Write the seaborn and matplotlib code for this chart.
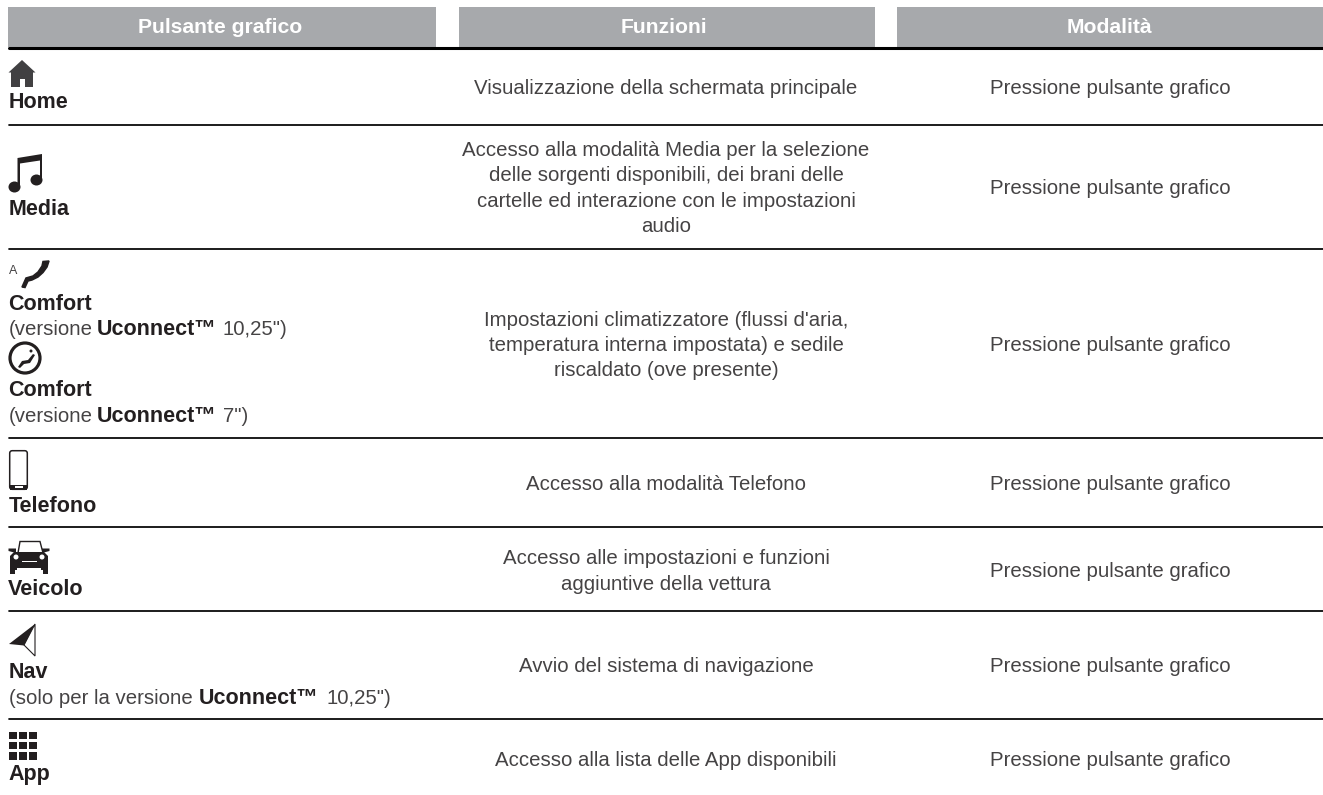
import matplotlib
matplotlib.use('Agg')
import matplotlib.pyplot as plt
from matplotlib.patches import Circle, Polygon, Rectangle, FancyBboxPatch, Ellipse
import numpy as np
import pandas as pd
import seaborn as sns

# table content
headers = ['Pulsante grafico', 'Funzioni', 'Modalità']
buttons = ['Home', 'Media', 'Comfort', 'Comfort', 'Telefono', 'Veicolo', 'Nav', 'App']
functions = [
    ['Visualizzazione della schermata principale'],
    ['Accesso alla modalità Media per la selezione',
     'delle sorgenti disponibili, dei brani delle',
     'cartelle ed interazione con le impostazioni',
     'audio'],
    ["Impostazioni climatizzatore (flussi d'aria,",
     'temperatura interna impostata) e sedile',
     'riscaldato (ove presente)'],
    ['Accesso alla modalità Telefono'],
    ['Accesso alle impostazioni e funzioni',
     'aggiuntive della vettura'],
    ['Avvio del sistema di navigazione'],
    ['Accesso alla lista delle App disponibili'],
]
mode = 'Pressione pulsante grafico'

# layout in image pixels
W, H = 1323, 795
head_left = [8, 459, 897]
head_right = [436, 875, 1323]
head_mid = [220, 664, 1109]
rule_y = [125, 249, 438, 527, 611, 719.3]
row_base = [93.5, 194, 351, 490, 577, 672.5, 766]
label_base = [108, 215, 310, 396, 512, 595, 678, 780]

sns.set_theme(style='white')
plt.rcParams['font.family'] = ['Liberation Sans', 'DejaVu Sans']
BODY = 14.7
LABEL = 15.5
DARK = '#231f20'
GREY = '#454344'

fig, ax = plt.subplots(figsize=(W / 100, H / 100), dpi=100)
fig.subplots_adjust(0, 0, 1, 1)

# header bands
bands = pd.DataFrame({'name': headers,
                      'width': np.array(head_right) - np.array(head_left),
                      'left': head_left})
for _, b in bands.iterrows():
    sns.barplot(x=[b['width']], y=[27], left=b['left'], orient='h', color='#a7a9ac',
                width=40, native_scale=True, saturation=1, ax=ax, linewidth=0)

# rules
rules = pd.DataFrame({'x': [9, W] * len(rule_y),
                      'y': np.repeat(rule_y, 2),
                      'r': np.repeat(range(len(rule_y)), 2)})
sns.lineplot(data=rules, x='x', y='y', units='r', estimator=None, color='black',
             linewidth=1.25, ax=ax, legend=False)
sns.lineplot(x=[9, W], y=[47.5, 47.5], color='black', linewidth=2.2, ax=ax, legend=False)

ax.set_xlim(0, W)
ax.set_ylim(H, 0)
ax.axis('off')


def poly(pts, fc=DARK, ec='none', lw=0):
    ax.add_patch(Polygon(pts, closed=True, fc=fc, ec=ec, lw=lw))


# header text
for cx, h in zip(head_mid, headers):
    ax.text(cx, 33, h, ha='center', va='baseline', color='white', fontsize=LABEL - 0.3,
            fontweight='bold')

# first column labels
for name, y in zip(buttons, label_base):
    ax.text(8.3, y, name, ha='left', va='baseline', color=DARK, fontsize=LABEL, fontweight='bold')


def version(y, before, x_u, after, x_after):
    ax.text(9, y, before, ha='left', va='baseline', color=GREY, fontsize=BODY)
    ax.text(x_u, y, 'Uconnect™', ha='left', va='baseline', color=DARK, fontsize=LABEL,
            fontweight='bold')
    ax.text(x_after, y, after, ha='left', va='baseline', color=GREY, fontsize=BODY)


version(335, '(versione', 96.5, '10,25")', 223)
version(421.5, '(versione', 96.5, '7")', 223)
version(704, '(solo per la versione', 198.5, '10,25")', 326)

# body columns
for lines, y in zip(functions, row_base):
    n = len(lines)
    for k, line in enumerate(lines):
        ax.text(666, y + (k - (n - 1) / 2) * 25.4, line, ha='center', va='baseline',
                color=GREY, fontsize=BODY)
    ax.text(1110.5, y, mode, ha='center', va='baseline', color=GREY, fontsize=BODY)

# icons, drawn by hand
# home
poly([(8.5, 72.5), (22, 60), (35.5, 72.5)], fc='#414042')
ax.add_patch(Rectangle((11, 72), 22, 15, fc='#414042', ec='none'))
ax.add_patch(Rectangle((19.5, 79), 5, 8, fc='white', ec='none'))
# music notes
poly([(17.5, 158), (42, 154), (42, 178), (40, 178), (40, 160.5), (20, 163.5), (20, 186), (17.5, 186)])
ax.add_patch(Ellipse((14.5, 187), 12, 11, fc=DARK, ec='none'))
ax.add_patch(Ellipse((36.5, 180), 12, 11, fc=DARK, ec='none'))
# A + seat
ax.text(9, 274, 'A', ha='left', va='baseline', color=GREY, fontsize=9)
poly([(22, 287), (26, 278), (33, 276), (38, 272), (42, 266), (43, 261.5), (49, 261), (47, 267),
      (43, 272.5), (38, 277), (32, 280), (28, 281), (25, 287.5)], ec=DARK, lw=1.1)
# comfort round
ax.add_patch(Circle((25, 358), 15, fc='none', ec=DARK, lw=2.3))
poly([(18, 367), (22, 361), (28, 360), (33, 354), (35, 355), (30, 363), (24, 364), (20, 368)])
ax.add_patch(Circle((31, 351), 1.5, fc=DARK, ec='none'))
# phone
ax.add_patch(FancyBboxPatch((9.7, 450.7), 17.6, 38.6, boxstyle='round,pad=0,rounding_size=2.5',
                            fc='white', ec=DARK, lw=1.1))
ax.add_patch(Rectangle((10, 485), 17, 4.5, fc=DARK, ec='none'))
ax.add_patch(Rectangle((15, 486), 8, 2.2, fc='white', ec='none'))
# car
poly([(18, 553), (20, 541.5), (40, 541.5), (43, 553)], fc='white', ec=DARK, lw=1)
poly([(10, 556), (14, 552), (44, 552), (48, 556), (48, 570), (10, 570)])
poly([(8.5, 548.5), (16, 548.5), (16, 553), (8.5, 551)])
poly([(42, 548.5), (49.5, 548.5), (49.5, 551), (42, 553)])
ax.add_patch(Circle((16, 557), 2.5, fc='white', ec='none'))
ax.add_patch(Circle((42, 557), 2.5, fc='white', ec='none'))
ax.add_patch(Rectangle((22, 561), 15, 1.2, fc='white', ec='none'))
ax.add_patch(Rectangle((17, 568), 24, 2, fc='white', ec='none'))
ax.add_patch(Rectangle((10, 570), 5, 3.5, fc=DARK, ec='none'))
ax.add_patch(Rectangle((43, 570), 5, 3.5, fc=DARK, ec='none'))
# nav arrow
poly([(35, 624), (24, 645), (35, 656)], fc='white', ec=DARK, lw=0.8)
poly([(9, 644), (35, 624), (24, 645.5)])
# app grid
for r in range(3):
    for c in range(3):
        ax.add_patch(Rectangle((9 + c * 10.1, 731.7 + r * 10.2), 7.5, 7.4, fc=DARK, ec='none'))

fig.savefig('out.png', dpi=100)
